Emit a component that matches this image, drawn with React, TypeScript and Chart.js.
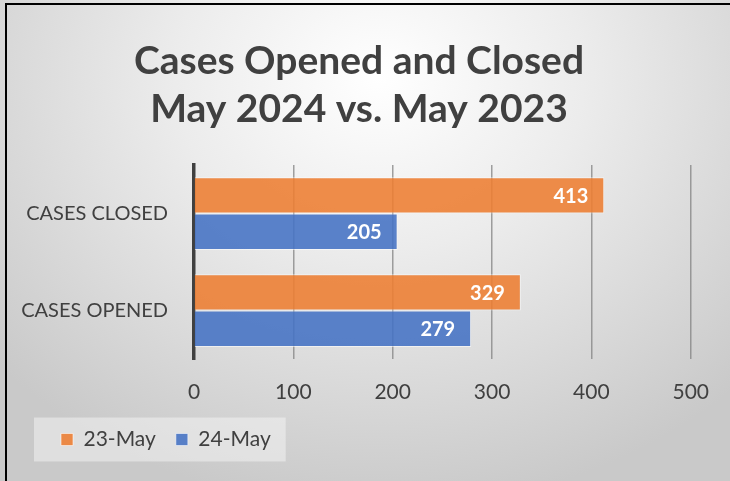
import React, { useEffect, useRef } from "react";
import { Chart, registerables } from "chart.js";

Chart.register(...registerables);

const categories = ["CASES CLOSED", "CASES OPENED"];
const seriesNames = ["23-May", "24-May"];
const may23Values = [413, 329];
const may24Values = [205, 279];
const titleLines = ["Cases Opened and Closed", "May 2024 vs. May 2023"];
const xMin = 0;
const xMax = 500;
const xStep = 100;

const FONT = "Lato, 'Noto Sans', sans-serif";

const shiftPlugin = {
  id: "boxShift",
  afterLayout(chart: any) {
    const lg = chart.legend;
    if (lg) {
      lg.left += 31;
      lg.right += 31;
    }
    const tb = chart.titleBlock;
    if (tb) {
      tb.left += 8.5;
      tb.right += 8.5;
    }
  },
};

const legendBoxPlugin = {
  id: "legendBox",
  beforeDraw(chart: any) {
    const lg = chart.legend;
    if (!lg || !lg.legendHitBoxes || !lg.legendHitBoxes.length) return;
    const hb = lg.legendHitBoxes;
    const first = hb[0];
    const last = hb[hb.length - 1];
    const left = first.left - 27;
    const right = last.left + last.width + 15;
    const cy = first.top + first.height / 2;
    const ctx = chart.ctx;
    ctx.save();
    ctx.fillStyle = "rgba(245,245,245,0.5)";
    ctx.fillRect(left, cy - 22, right - left, 44);
    ctx.restore();
  },
};

const dataLabelPlugin = {
  id: "barValueLabels",
  afterDatasetsDraw(chart: any) {
    const ctx = chart.ctx;
    ctx.save();
    ctx.font = `bold 20px ${FONT}`;
    ctx.fillStyle = "#ffffff";
    ctx.textAlign = "right";
    ctx.textBaseline = "middle";
    chart.data.datasets.forEach((ds: any, di: number) => {
      const meta = chart.getDatasetMeta(di);
      meta.data.forEach((bar: any, i: number) => {
        ctx.fillText(String(ds.data[i]), bar.x - 16, bar.y + 1);
      });
    });
    ctx.restore();
  },
};

export default function App() {
  const canvasRef = useRef<HTMLCanvasElement | null>(null);

  useEffect(() => {
    if (!canvasRef.current) return;
    const chart = new Chart(canvasRef.current, {
      type: "bar",
      data: {
        labels: categories,
        datasets: [
          {
            label: seriesNames[0],
            data: may23Values,
            backgroundColor: "rgba(237,125,49,0.88)",
            borderColor: "rgba(255,255,255,0.55)",
            borderWidth: 1,
            categoryPercentage: 0.75,
            barPercentage: 1,
          },
          {
            label: seriesNames[1],
            data: may24Values,
            backgroundColor: "rgba(68,114,196,0.88)",
            borderColor: "rgba(255,255,255,0.55)",
            borderWidth: 1,
            categoryPercentage: 0.75,
            barPercentage: 1,
          },
        ],
      },
      options: {
        indexAxis: "y",
        animation: false,
        responsive: false,
        maintainAspectRatio: false,
        layout: { padding: { left: 10, right: 39, top: 0, bottom: 21 } },
        plugins: {
          title: {
            display: true,
            text: titleLines,
            color: "#404040",
            font: { family: FONT, size: 39, weight: "bold", lineHeight: 48 / 39 },
            padding: { top: 37, bottom: 32 },
          },
          legend: {
            position: "bottom",
            align: "start",
            labels: {
              boxWidth: 12,
              boxHeight: 12,
              padding: 20,
              color: "#404040",
              font: { family: FONT, size: 21 },
            },
          },
          tooltip: { enabled: false },
        },
        scales: {
          x: {
            min: xMin,
            max: xMax,
            ticks: {
              stepSize: xStep,
              color: "#404040",
              font: { family: FONT, size: 21 },
              padding: 21,
            },
            grid: {
              color: "rgba(130,130,130,0.75)",
              lineWidth: 1.5,
              drawTicks: false,
            },
            border: { display: false },
            afterFit(scale: any) {
              scale.height = 50;
            },
          },
          y: {
            ticks: {
              color: "#404040",
              font: { family: FONT, size: 20 },
              padding: 26,
            },
            grid: { display: false, drawTicks: false },
            border: { display: true, color: "#404040", width: 3.5 },
            afterFit(scale: any) {
              scale.width = 194 - 10;
            },
          },
        },
      },
      plugins: [shiftPlugin, legendBoxPlugin, dataLabelPlugin],
    } as any);
    return () => chart.destroy();
  }, []);

  return (
    <div
      style={{
        position: "fixed",
        left: 0,
        top: 0,
        width: 730,
        height: 481,
        overflow: "hidden",
        background:
          "radial-gradient(ellipse 70% 90% at 52% 16%, #ffffff 0%, #ececec 40%, #c9c9c9 100%)",
      }}
    >
      <div style={{ position: "absolute", left: 5, top: 3, width: 2, height: 478, background: "#000" }} />
      <div style={{ position: "absolute", left: 5, top: 3, width: 725, height: 2, background: "#000" }} />
      <canvas
        ref={canvasRef}
        width={730}
        height={481}
        style={{ position: "absolute", left: 0, top: 0, width: 730, height: 481 }}
      />
    </div>
  );
}
